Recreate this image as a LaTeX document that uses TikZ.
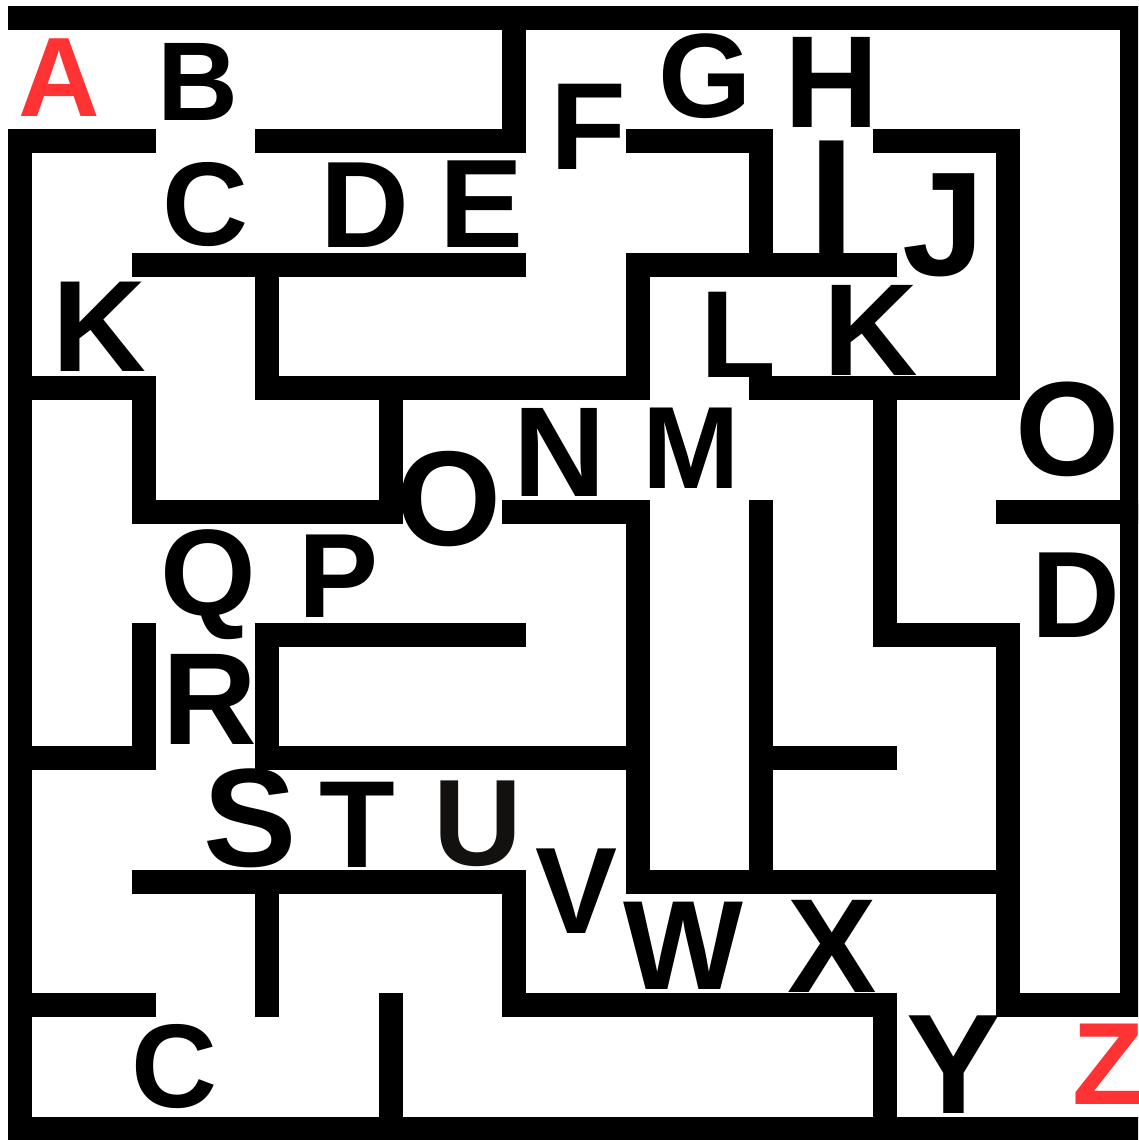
\documentclass[tikz,border=0pt]{standalone}
\usepackage{fontspec}
\setmainfont{Liberation Sans}
\definecolor{mred}{RGB}{255,51,51}
\definecolor{udark}{RGB}{18,17,15}
\newcommand\lsz[1]{\fontsize{#1}{#1}\selectfont}
\tikzset{
  wall/.style={line width=24pt, line cap=rect, line join=miter, black},
  lbl/.style={anchor=base, inner sep=0pt, outer sep=0pt, font=\bfseries}
}
\begin{document}
\begin{tikzpicture}[x=1pt,y=-1pt]
\useasboundingbox (0,0) rectangle (1138,1140);
\clip (0,0) rectangle (1138,1140);
\fill[white] (0,0) rectangle (1138,1140);
% letters
\node[lbl, text=mred] (A) at (59,116) {\lsz{113}A};
\node[lbl] (B) at (198,120) {\lsz{112}B};
\node[lbl] (C) at (205,245.5) {\lsz{119}C};
\node[lbl] (D) at (365,247) {\lsz{123}D};
\node[lbl] (E) at (481.5,247) {\lsz{126}E};
\node[lbl] (F) at (588,169) {\lsz{124}F};
\node[lbl] (G) at (705,117.5) {\lsz{120}G};
\node[lbl] (H) at (832,127) {\lsz{131}H};
\node[lbl] (I) at (831.5,256) {\lsz{168}I};
\node[lbl] (J) at (944,275.5) {\lsz{148}J};
\node[lbl] (K) at (99,371) {\lsz{130}K};
\node[lbl] (L) at (738,377) {\lsz{124}L};
\node[lbl] (K2) at (871,375) {\lsz{131}K};
\node[lbl] (Ocen) at (448.5,545.5) {\lsz{135}O};
\node[lbl] (N) at (559.5,496) {\lsz{128}N};
\node[lbl] (M) at (691,488) {\lsz{117}M};
\node[lbl] (Orig) at (1068,475.5) {\lsz{134}O};
\node[lbl] (D2) at (1076,637) {\lsz{123}D};
\node[lbl] (Q) at (208,615.5) {\lsz{123}Q};
\node[lbl] (P) at (339,617) {\lsz{120}P};
\node[lbl] (R) at (210,744) {\lsz{131}R};
\node[lbl] (S) at (250,866.5) {\lsz{140}S};
\node[lbl] (T) at (357,867) {\lsz{124}T};
\node[lbl, text=udark] (U) at (478,865.5) {\lsz{123}U};
\node[lbl] (V) at (577,933) {\lsz{123}V};
\node[lbl] (W) at (683.5,989) {\lsz{127}W};
\node[lbl] (X) at (832,992) {\lsz{134}X};
\node[lbl] (Y) at (954,1113) {\lsz{142}Y};
\node[lbl, text=mred] (Z) at (1108,1104) {\lsz{117}Z};
\node[lbl] (C2) at (174.5,1107.5) {\lsz{119}C};
% walls
\begin{scope}[shift={(20,18)}, x=123.5pt, y=-123.4pt]
\draw[wall] (8,8) -- (9,8) -- (9,0) -- (0,0);
\draw[wall] (0,1) -- (0,9) -- (9.2,9);
\draw[wall] (4,0) -- (4,1) -- (2,1);
\draw[wall] (0,1) -- (1,1);
\draw[wall] (5,1) -- (6,1) -- (6,2);
\draw[wall] (7,1) -- (8,1) -- (8,3) -- (6,3);
\draw[wall] (1,2) -- (4,2);
\draw[wall] (2,2) -- (2,3) -- (5,3) -- (5,2) -- (7,2);
\draw[wall] (0,3) -- (1,3) -- (1,4) -- (3,4) -- (3,3);
\draw[wall] (7,3) -- (7,5) -- (8,5) -- (8,8);
\draw[wall] (8,4) -- (9,4);
\draw[wall] (4,4) -- (5,4) -- (5,7) -- (8,7);
\draw[wall] (6,4) -- (6,7);
\draw[wall] (4,5) -- (2,5) -- (2,6) -- (5,6);
\draw[wall] (1,5) -- (1,6) -- (0,6);
\draw[wall] (6,6) -- (7,6);
\draw[wall] (1,7) -- (4,7) -- (4,8) -- (7,8) -- (7,9);
\draw[wall] (2,7) -- (2,8);
\draw[wall] (0,8) -- (1,8);
\draw[wall] (3,8) -- (3,9);
\end{scope}
\end{tikzpicture}
\end{document}
